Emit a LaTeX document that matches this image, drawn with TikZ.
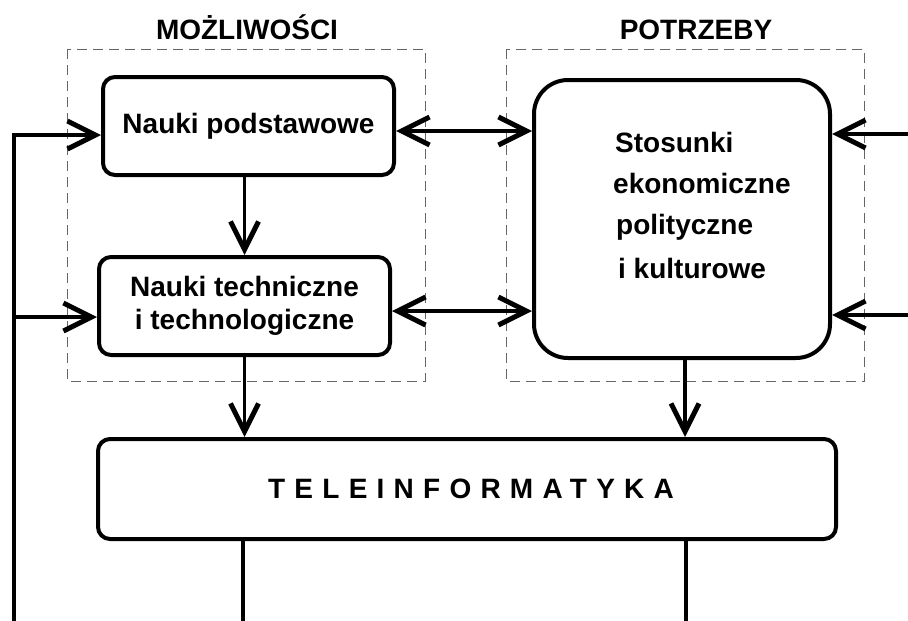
\documentclass[tikz,border=0pt]{standalone}
\usepackage{fontspec}
\setmainfont{Liberation Sans}
\usetikzlibrary{arrows.meta,positioning,calc}

\begin{document}
\begin{tikzpicture}[x=1pt,y=-1pt,
  every node/.style={font=\bfseries\fontsize{28}{33}\selectfont},
  box/.style={draw,line width=4pt,rounded corners=12pt,inner sep=0pt,align=center},
  conn/.style={line width=3.5pt,-{Straight Barb[length=28pt,width=28pt,line width=5pt]}},
  both/.style={line width=3.5pt,{Straight Barb[length=28pt,width=28pt,line width=5pt]}-{Straight Barb[length=28pt,width=28pt,line width=5pt]}},
  group/.style={draw=black!60,line width=1pt,dash pattern=on 10pt off 6pt}]
\useasboundingbox (0,0) rectangle (908,621);
% dashed groups
\draw[group] (67,49) rectangle (425,381);
\draw[group] (506,49) rectangle (864,381);
\node[anchor=base] (mozl) at (247,39) {MOŻLIWOŚCI};
\node[anchor=base] (potrz) at (696,39) {POTRZEBY};
% boxes
\node[box,minimum width=291pt,minimum height=98pt] (np) at (248.5,126) {Nauki podstawowe};
\node[box,minimum width=291pt,minimum height=98pt] (nt) at (244.5,306) {Nauki techniczne\\i technologiczne};
\node[box,rounded corners=34pt,minimum width=296pt,minimum height=278pt] (stos) at (682,219) {};
\node[anchor=north west,align=left,inner sep=0pt,font=\bfseries\fontsize{28}{41}\selectfont] (stostxt) at (613,132)
  {\hspace*{2pt}Stosunki\\ekonomiczne\\\hspace*{3pt}polityczne\\[3pt]\hspace*{5pt}i kulturowe};
\node[box,minimum width=738pt,minimum height=100pt] (tele) at (467,489)
  {\hspace*{8pt}\addfontfeatures{LetterSpace=33}TELEINFORMATYKA};
% free ends
\coordinate (lbot) at (14,621);
\coordinate (rin1) at (908,134);
\coordinate (rin2) at (908,315);
\coordinate (bot1) at (243,621);
\coordinate (bot2) at (686,621);
% connectors
\draw[conn] (lbot) |- ([yshift=-9pt]np.west);
\draw[conn] ([yshift=-11pt]nt.west -| lbot) -- ([yshift=-11pt]nt.west);
\draw[both] ([yshift=-5pt]np.east) -- ([yshift=-5pt]np.east -| stos.west);
\draw[both] ([yshift=-5pt]nt.east) -- ([yshift=-5pt]nt.east -| stos.west);
\draw[conn] (rin1) -- (rin1 -| stos.east);
\draw[conn] (rin2) -- (rin2 -| stos.east);
\draw[conn] (np.south -| nt.north) -- (nt.north);
\draw[conn] (nt.south) -- (nt.south |- tele.north);
\draw[conn] ([xshift=3pt]stos.south) -- ([xshift=3pt]stos.south |- tele.north);
\draw[line width=3.5pt] (tele.south -| bot1) -- (bot1);
\draw[line width=3.5pt] (tele.south -| bot2) -- (bot2);
\end{tikzpicture}
\end{document}
